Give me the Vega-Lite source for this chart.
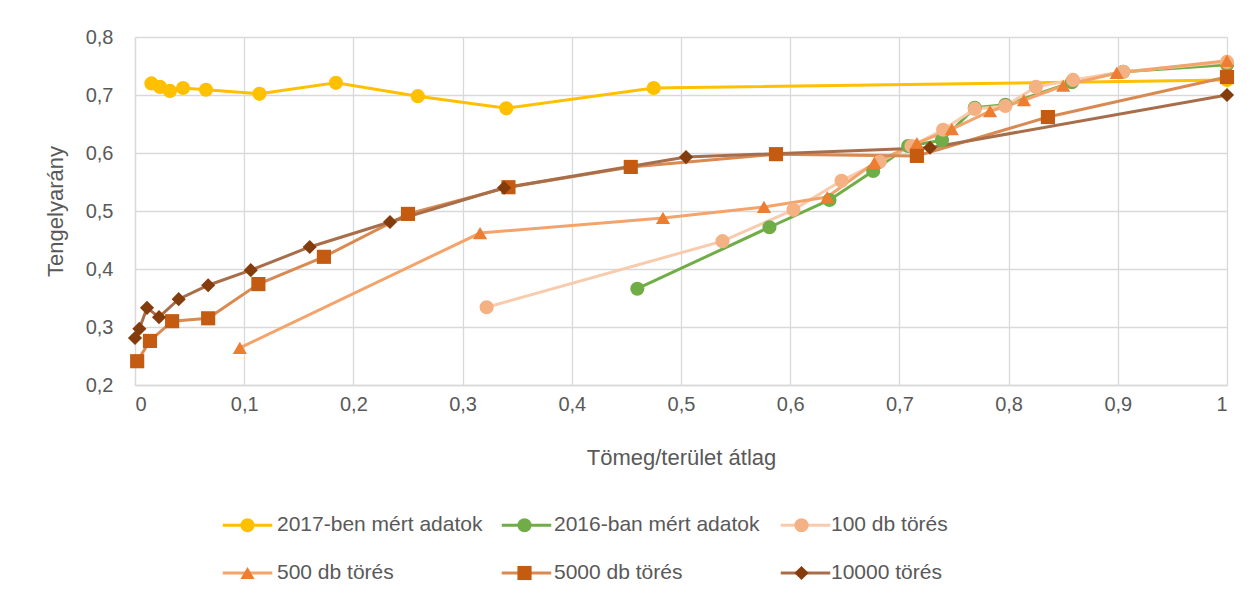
{
  "$schema": "https://vega.github.io/schema/vega-lite/v6.json",
  "width": 1092,
  "height": 348,
  "autosize": {"type": "none"},
  "padding": {"left": 135, "top": 37, "right": 26, "bottom": 213},
  "background": "white",
  "config": {
    "font": "Liberation Sans",
    "view": {"stroke": null},
    "axis": {
      "gridColor": "#D9D9D9", "gridWidth": 1.3,
      "domainColor": "#D9D9D9", "domainWidth": 1.3,
      "ticks": false,
      "labelColor": "#595959", "labelFontSize": 20, "labelFont": "Liberation Sans",
      "titleColor": "#595959", "titleFontSize": 22, "titleFontWeight": "normal", "titleFont": "Liberation Sans"
    },
    "legend": {"labelFont": "Liberation Sans", "labelFontSize": 21, "labelColor": "#595959", "labelLimit": 400, "padding": 0}
  },
  "data": {
    "values": [
      {"s": "2017-ben mért adatok", "i": 0, "x": 0.015, "y": 0.720},
      {"s": "2017-ben mért adatok", "i": 1, "x": 0.023, "y": 0.714},
      {"s": "2017-ben mért adatok", "i": 2, "x": 0.032, "y": 0.707},
      {"s": "2017-ben mért adatok", "i": 3, "x": 0.044, "y": 0.712},
      {"s": "2017-ben mért adatok", "i": 4, "x": 0.065, "y": 0.709},
      {"s": "2017-ben mért adatok", "i": 5, "x": 0.114, "y": 0.702},
      {"s": "2017-ben mért adatok", "i": 6, "x": 0.184, "y": 0.721},
      {"s": "2017-ben mért adatok", "i": 7, "x": 0.259, "y": 0.698},
      {"s": "2017-ben mért adatok", "i": 8, "x": 0.340, "y": 0.677},
      {"s": "2017-ben mért adatok", "i": 9, "x": 0.475, "y": 0.712},
      {"s": "2017-ben mért adatok", "i": 10, "x": 1.0, "y": 0.726},

      {"s": "2016-ban mért adatok", "i": 0, "x": 0.460, "y": 0.366},
      {"s": "2016-ban mért adatok", "i": 1, "x": 0.581, "y": 0.472},
      {"s": "2016-ban mért adatok", "i": 2, "x": 0.636, "y": 0.519},
      {"s": "2016-ban mért adatok", "i": 3, "x": 0.676, "y": 0.569},
      {"s": "2016-ban mért adatok", "i": 4, "x": 0.708, "y": 0.612},
      {"s": "2016-ban mért adatok", "i": 5, "x": 0.739, "y": 0.622},
      {"s": "2016-ban mért adatok", "i": 6, "x": 0.769, "y": 0.678},
      {"s": "2016-ban mért adatok", "i": 7, "x": 0.797, "y": 0.683},
      {"s": "2016-ban mért adatok", "i": 8, "x": 0.858, "y": 0.722},
      {"s": "2016-ban mért adatok", "i": 9, "x": 0.905, "y": 0.740},
      {"s": "2016-ban mért adatok", "i": 10, "x": 1.0, "y": 0.752},

      {"s": "100 db törés", "i": 0, "x": 0.322, "y": 0.334},
      {"s": "100 db törés", "i": 1, "x": 0.538, "y": 0.448},
      {"s": "100 db törés", "i": 2, "x": 0.603, "y": 0.502},
      {"s": "100 db törés", "i": 3, "x": 0.647, "y": 0.552},
      {"s": "100 db törés", "i": 4, "x": 0.682, "y": 0.585},
      {"s": "100 db törés", "i": 5, "x": 0.711, "y": 0.612},
      {"s": "100 db törés", "i": 6, "x": 0.740, "y": 0.640},
      {"s": "100 db törés", "i": 7, "x": 0.769, "y": 0.676},
      {"s": "100 db törés", "i": 8, "x": 0.797, "y": 0.681},
      {"s": "100 db törés", "i": 9, "x": 0.825, "y": 0.714},
      {"s": "100 db törés", "i": 10, "x": 0.859, "y": 0.726},
      {"s": "100 db törés", "i": 11, "x": 0.905, "y": 0.740},
      {"s": "100 db törés", "i": 12, "x": 1.0, "y": 0.757},

      {"s": "500 db törés", "i": 0, "x": 0.096, "y": 0.264},
      {"s": "500 db törés", "i": 1, "x": 0.316, "y": 0.462},
      {"s": "500 db törés", "i": 2, "x": 0.4835, "y": 0.488},
      {"s": "500 db törés", "i": 3, "x": 0.576, "y": 0.507},
      {"s": "500 db törés", "i": 4, "x": 0.634, "y": 0.524},
      {"s": "500 db törés", "i": 5, "x": 0.677, "y": 0.583},
      {"s": "500 db törés", "i": 6, "x": 0.716, "y": 0.617},
      {"s": "500 db törés", "i": 7, "x": 0.748, "y": 0.641},
      {"s": "500 db törés", "i": 8, "x": 0.783, "y": 0.672},
      {"s": "500 db törés", "i": 9, "x": 0.814, "y": 0.691},
      {"s": "500 db törés", "i": 10, "x": 0.850, "y": 0.716},
      {"s": "500 db törés", "i": 11, "x": 0.899, "y": 0.738},
      {"s": "500 db törés", "i": 12, "x": 1.0, "y": 0.759},

      {"s": "5000 db törés", "i": 0, "x": 0.002, "y": 0.241},
      {"s": "5000 db törés", "i": 1, "x": 0.0137, "y": 0.276},
      {"s": "5000 db törés", "i": 2, "x": 0.034, "y": 0.310},
      {"s": "5000 db törés", "i": 3, "x": 0.067, "y": 0.315},
      {"s": "5000 db törés", "i": 4, "x": 0.113, "y": 0.374},
      {"s": "5000 db törés", "i": 5, "x": 0.173, "y": 0.421},
      {"s": "5000 db törés", "i": 6, "x": 0.250, "y": 0.495},
      {"s": "5000 db törés", "i": 7, "x": 0.342, "y": 0.541},
      {"s": "5000 db törés", "i": 8, "x": 0.454, "y": 0.576},
      {"s": "5000 db törés", "i": 9, "x": 0.587, "y": 0.598},
      {"s": "5000 db törés", "i": 10, "x": 0.716, "y": 0.595},
      {"s": "5000 db törés", "i": 11, "x": 0.836, "y": 0.662},
      {"s": "5000 db törés", "i": 12, "x": 1.0, "y": 0.731},

      {"s": "10000 törés", "i": 0, "x": 0.0, "y": 0.281},
      {"s": "10000 törés", "i": 1, "x": 0.004, "y": 0.297},
      {"s": "10000 törés", "i": 2, "x": 0.011, "y": 0.333},
      {"s": "10000 törés", "i": 3, "x": 0.022, "y": 0.317},
      {"s": "10000 törés", "i": 4, "x": 0.040, "y": 0.348},
      {"s": "10000 törés", "i": 5, "x": 0.067, "y": 0.372},
      {"s": "10000 törés", "i": 6, "x": 0.106, "y": 0.398},
      {"s": "10000 törés", "i": 7, "x": 0.160, "y": 0.438},
      {"s": "10000 törés", "i": 8, "x": 0.2335, "y": 0.481},
      {"s": "10000 törés", "i": 9, "x": 0.338, "y": 0.540},
      {"s": "10000 törés", "i": 10, "x": 0.5046, "y": 0.593},
      {"s": "10000 törés", "i": 11, "x": 0.728, "y": 0.609},
      {"s": "10000 törés", "i": 12, "x": 1.0, "y": 0.700}
    ]
  },
  "encoding": {
    "x": {
      "field": "x", "type": "quantitative",
      "scale": {"domain": [0, 1], "nice": false, "zero": false},
      "axis": {
        "title": "Tömeg/terület átlag",
        "values": [0, 0.1, 0.2, 0.3, 0.4, 0.5, 0.6, 0.7, 0.8, 0.9, 1],
        "labelExpr": "replace(format(datum.value, '.1~f'), '.', ',')",
        "labelPadding": 9,
        "titleY": 72, "titleBaseline": "middle",
        "grid": true
      }
    },
    "y": {
      "field": "y", "type": "quantitative",
      "scale": {"domain": [0.2, 0.8], "nice": false, "zero": false},
      "axis": {
        "title": "Tengelyarány",
        "values": [0.2, 0.3, 0.4, 0.5, 0.6, 0.7, 0.8],
        "labelExpr": "replace(format(datum.value, '.1~f'), '.', ',')",
        "labelPadding": 22,
        "titleX": -80, "titleY": 174, "titleAngle": -90,
        "titleAlign": "center", "titleBaseline": "middle",
        "grid": true
      }
    }
  },
  "layer": [
    {
      "transform": [{"calculate": "datum.s", "as": "sl"}],
      "mark": {"type": "line", "strokeWidth": 3},
      "encoding": {
        "order": {"field": "i", "type": "quantitative"},
        "stroke": {
          "field": "sl", "type": "nominal",
          "sort": ["2017-ben mért adatok", "2016-ban mért adatok", "100 db törés", "500 db törés", "5000 db törés", "10000 törés"],
          "scale": {
            "range": ["#FFC000", "#70AD47", "#F8CBAD", "#F4A46A", "#D98A52", "#A86E4A"]
          },
          "legend": {
            "title": null, "orient": "none", "legendX": 102, "legendY": 477.5,
            "direction": "horizontal", "columns": 3, "gridAlign": "all",
            "columnPadding": 216, "rowPadding": 26,
            "symbolType": "M-4.5,0H4.5", "symbolSize": 121, "symbolStrokeWidth": 3,
            "labelOffset": 19, "labelExpr": "''", "zindex": 0
          }
        }
      }
    },
    {
      "mark": {"type": "point", "filled": true, "opacity": 1},
      "encoding": {
        "color": {
          "field": "s", "type": "nominal",
          "scale": {
            "domain": ["2017-ben mért adatok", "2016-ban mért adatok", "100 db törés", "500 db törés", "5000 db törés", "10000 törés"],
            "range": ["#FFC000", "#70AD47", "#F4B183", "#ED7D31", "#C55A11", "#843C0C"]
          },
          "legend": {
            "title": null, "orient": "none", "legendX": 102, "legendY": 477.5,
            "direction": "horizontal", "columns": 3, "gridAlign": "all",
            "columnPadding": 31, "rowPadding": 26,
            "symbolSize": 196, "symbolStrokeWidth": 0,
            "labelOffset": 19, "zindex": 1
          }
        },
        "shape": {
          "field": "s", "type": "nominal",
          "scale": {
            "domain": ["2017-ben mért adatok", "2016-ban mért adatok", "100 db törés", "500 db törés", "5000 db törés", "10000 törés"],
            "range": ["circle", "circle", "circle", "triangle-up", "square", "diamond"]
          },
          "legend": {
            "title": null, "orient": "none", "legendX": 102, "legendY": 477.5,
            "direction": "horizontal", "columns": 3, "gridAlign": "all",
            "columnPadding": 31, "rowPadding": 26,
            "symbolSize": 196, "symbolStrokeWidth": 0,
            "labelOffset": 19, "zindex": 1
          }
        },
        "size": {
          "field": "s", "type": "nominal",
          "scale": {
            "domain": ["2017-ben mért adatok", "2016-ban mért adatok", "100 db törés", "500 db törés", "5000 db törés", "10000 törés"],
            "range": [200, 200, 200, 270, 200, 260]
          },
          "legend": null
        }
      }
    }
  ]
}
